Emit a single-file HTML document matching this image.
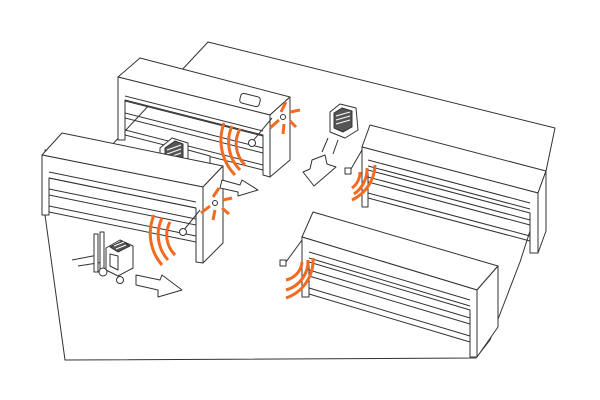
<!DOCTYPE html>
<html><head><meta charset="utf-8"><style>
html,body{margin:0;padding:0;background:#fff;width:600px;height:400px;overflow:hidden}
svg{display:block}
</style></head><body>
<svg width="600" height="400" viewBox="0 0 600 400" xmlns="http://www.w3.org/2000/svg">
<g fill="#fff" stroke="#333" stroke-width="1" stroke-linejoin="round">
<!-- floor -->
<polygon points="208,42 555,128 540,200 520,262 490,340 476,358 65,360 45,215 45,150 110,147 180,72"/>

<!-- shelf 1 -->
<polygon points="140,58 290,97 270,115 118,77"/>
<polygon points="118,77 270,115 270,177 263,175 263,135 125,100 125,140 118,140"/>
<polygon points="270,115 290,97 290,160 270,177"/>
<polyline fill="none" points="125,96 263,131"/>
<polyline fill="none" points="125,101 263,136"/>
<polyline fill="none" points="125,113 263,148"/>
<polyline fill="none" points="125,118 263,153"/>
<polyline fill="none" points="125,130 263,165"/>
<polyline fill="none" points="125,135 263,170"/>
<rect x="240" y="95" width="20" height="10" rx="3" transform="rotate(14 250 100)"/>

<!-- back forklift -->
<polygon points="160,148 172,138 188,143 188,165 172,172 160,165"/>
<polygon fill="#555" points="165,148 175,141 183,144 183,160 172,165 165,160"/>
<g stroke="#fff"><line x1="167" y1="150" x2="181" y2="145"/><line x1="167" y1="154" x2="181" y2="149"/><line x1="167" y1="158" x2="181" y2="153"/></g>
<polygon points="188,150 210,156 210,178 188,172"/>

<!-- forklift right -->
<polygon points="330,112 340,104 356,108 358,130 345,138 330,132"/>
<polygon fill="#555" points="334,113 342,108 352,111 352,127 343,132 334,128"/>
<g stroke="#fff"><line x1="336" y1="116" x2="350" y2="112"/><line x1="336" y1="120" x2="350" y2="116"/><line x1="336" y1="124" x2="350" y2="120"/></g>
<line x1="328" y1="138" x2="322" y2="152"/><line x1="338" y1="140" x2="333" y2="154"/>
<polygon points="312,160 325,155 327,164 336,167 314,186 303,172 310,169"/>

<!-- shelf 2 -->
<polygon points="62,133 223,166 203,187 42,155"/>
<polygon points="42,155 203,187 203,263 196,262 196,208 49,178 49,215 42,215"/>
<polygon points="203,187 223,166 223,243 203,263"/>
<polyline fill="none" points="49,172 196,202"/>
<polyline fill="none" points="49,178 196,208"/>
<polyline fill="none" points="49,189 196,219"/>
<polyline fill="none" points="49,195 196,225"/>
<polyline fill="none" points="49,206 196,236"/>
<polyline fill="none" points="49,212 196,242"/>

<!-- arrows -->
<polygon points="222,180 240,185 242,180 258,190 238,196 238,192 220,188"/>
<polygon points="136,275 160,280 162,275 182,290 158,297 158,290 136,285"/>

<!-- front forklift -->
<line x1="72" y1="260" x2="98" y2="255"/><line x1="78" y1="266" x2="104" y2="262"/>
<rect x="94" y="234" width="4" height="38"/><rect x="100" y="232" width="4" height="38"/>
<polygon points="106,248 120,240 133,246 133,268 118,276 106,270"/>
<polygon fill="#555" points="110,247 122,241 130,246 118,252"/>
<g stroke="#fff"><line x1="114" y1="246" x2="124" y2="242"/><line x1="116" y1="249" x2="126" y2="245"/></g>
<polygon points="110,254 118,256 118,270 110,266"/>
<circle cx="103" cy="272" r="4"/><circle cx="120" cy="280" r="3.5"/>

<!-- shelf 3 -->
<polygon points="370,125 546,171 538,193 362,147"/>
<polygon points="362,147 538,193 538,253 530,253 530,213 368,170 368,207 362,207"/>
<polygon points="538,193 546,171 546,231 538,253"/>
<polyline fill="none" points="368,160 530,203"/>
<polyline fill="none" points="368,166 530,209"/>
<polyline fill="none" points="368,177 530,220"/>
<polyline fill="none" points="368,182 530,225"/>
<polyline fill="none" points="368,193 530,236"/>
<polyline fill="none" points="368,198 530,241"/>

<!-- shelf 4 -->
<polygon points="313,212 498,266 477,290 302,237"/>
<polygon points="302,237 477,290 477,357 470,357 470,310 309,262 309,297 302,297"/>
<polygon points="477,290 498,266 498,327 477,357"/>
<polyline fill="none" points="309,252 470,300"/>
<polyline fill="none" points="309,258 470,306"/>
<polyline fill="none" points="309,270 470,318"/>
<polyline fill="none" points="309,276 470,324"/>
<polyline fill="none" points="309,288 470,336"/>
<polyline fill="none" points="309,294 470,342"/>

<!-- sensors -->
<line x1="252" y1="142" x2="272" y2="118"/><circle cx="252" cy="143" r="3.5"/>
<circle cx="283" cy="117" r="2.5"/>
<line x1="183" y1="231" x2="200" y2="210"/><circle cx="183" cy="232" r="3.5"/>
<circle cx="215" cy="203" r="2.5"/>
<line x1="351" y1="169" x2="362" y2="150"/><rect x="345" y="168" width="6" height="6"/>
<line x1="286" y1="262" x2="302" y2="240"/><rect x="280" y="260" width="6" height="6"/>
</g>

<!-- orange waves -->
<g fill="none" stroke="#f26b21" stroke-width="3" stroke-linecap="butt">
<path d="M240,129 A30,30 0 0 0 245,165"/>
<path d="M232,126 A40,40 0 0 0 240,170"/>
<path d="M224,123 A50,50 0 0 0 235,175"/>
<path d="M170,222 A28,28 0 0 0 175,255"/>
<path d="M162,218 A38,38 0 0 0 168,260"/>
<path d="M154,215 A48,48 0 0 0 162,265"/>
<path d="M360,172 A20,20 0 0 1 352,188"/>
<path d="M367,168 A30,30 0 0 1 354,194"/>
<path d="M375,165 A40,40 0 0 1 352,200"/>
<path d="M302,262 A20,20 0 0 1 286,280"/>
<path d="M308,260 A30,30 0 0 1 286,290"/>
<path d="M313,258 A40,40 0 0 1 286,298"/>
<line x1="270" y1="128" x2="279" y2="120"/><line x1="281" y1="112" x2="286" y2="102"/>
<line x1="290" y1="112" x2="300" y2="110"/><line x1="290" y1="121" x2="296" y2="127"/>
<line x1="284" y1="124" x2="283" y2="134"/>
<line x1="201" y1="213" x2="210" y2="206"/><line x1="213" y1="197" x2="219" y2="188"/>
<line x1="223" y1="200" x2="232" y2="198"/><line x1="222" y1="208" x2="229" y2="214"/>
<line x1="215" y1="210" x2="213" y2="220"/>
</g>
</svg>
</body></html>
